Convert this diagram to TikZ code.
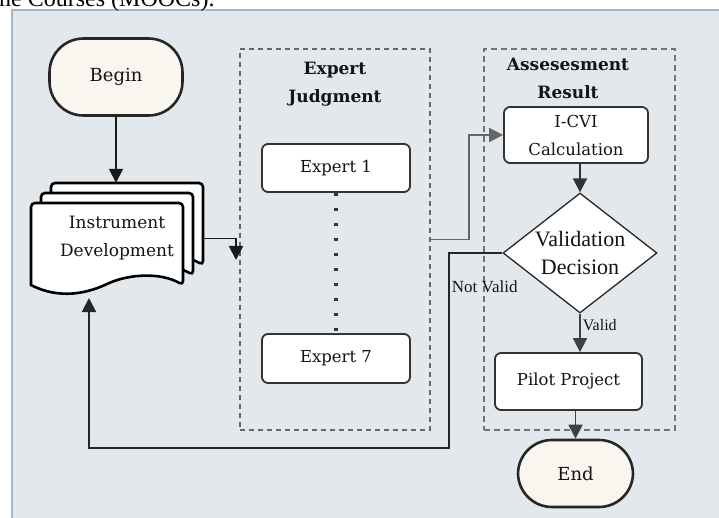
\documentclass[tikz,border=0pt]{standalone}
\usepackage{fontspec}
\setmainfont{DejaVu Serif}
\newfontfamily\thinserif{Liberation Serif}
\usetikzlibrary{shapes.geometric,arrows.meta,positioning}

\definecolor{panelbg}{HTML}{E3E8ED}
\definecolor{panelline}{HTML}{A9B6C3}
\definecolor{cream}{HTML}{F8F6EE}
\definecolor{inkgray}{HTML}{141414}

\begin{document}
\begin{tikzpicture}[x=1pt,y=-1pt,>={Triangle[length=14pt,width=14pt]},
    font=\fontsize{16.5pt}{28pt}\selectfont,text=inkgray,
    terminal/.style={rectangle,rounded corners=34pt,fill=cream,draw=black!85,
                     line width=2.6pt,font=\fontsize{18pt}{28pt}\selectfont},
    stepbox/.style={rectangle,rounded corners=6pt,fill=white,draw=black!80,
                    line width=1.8pt,align=center},
    grouptitle/.style={align=center,font=\fontsize{17pt}{28pt}\selectfont\bfseries},
    link/.style={->,line width=1.8pt,draw=black!90},
    tag/.style={font=\thinserif\fontsize{16pt}{16pt}\selectfont,inner sep=2pt}]

  \useasboundingbox (0,0) rectangle (719,518);
  \fill[panelbg] (12,10) rectangle (725,525);
  \draw[panelline,line width=2pt] (12,525) -- (12,10) -- (725,10);
  \node[anchor=base west,inner sep=0pt,font=\thinserif\fontsize{24pt}{24pt}\selectfont,
        text=black] (caption) at (-1,7) {ne Courses (MOOCs).};

  % groups
  \node[rectangle,draw=black!60,line width=1.2pt,dash pattern=on 5pt off 4pt,
        minimum width=190pt,minimum height=381pt] (judge) at (335,239.5) {};
  \node[grouptitle] (judgetitle) at (335,84) {Expert\\Judgment};
  \node[rectangle,draw=black!55,line width=2pt,dash pattern=on 6pt off 4pt,
        minimum width=191pt,minimum height=381pt] (assess) at (579.5,239.5) {};
  \node[grouptitle] (assesstitle) at (568,78) {Assesesment\\Result};

  % instrument development, three stacked sheets
  \foreach \d in {20,10,0}
    \draw[line width=2.6pt,fill=white,shift={(\d,-\d)}] (31,285)
      [rounded corners=4pt] -- (31,203) -- (183,203) -- (183,285) [sharp corners]
      .. controls (160,272) and (128,274) .. (107,284)
      .. controls (88,293) and (60,300) .. (31,285) -- cycle;
  \node[align=center,minimum width=172pt,minimum height=111pt,
        font=\fontsize{17pt}{28pt}\selectfont] (dev)
       at (117,238.5) {Instrument\\Development};

  \node[terminal,minimum width=133pt,minimum height=77pt] (begin) at (116,77) {Begin};
  \node[stepbox,minimum width=148pt,minimum height=48pt] (exp1) at (336,168) {Expert 1};
  \node[stepbox,minimum width=148pt,minimum height=49pt] (exp7) at (336,358.5) {Expert 7};
  \node[stepbox,minimum width=144pt,minimum height=56pt] (icvi) at (576,135) {I-CVI\\Calculation};
  \node[diamond,fill=white,draw=black!85,line width=1.3pt,align=center,inner sep=0pt,
        shape aspect=1.28,minimum width=154pt,minimum height=120pt,
        font=\thinserif\fontsize{22pt}{28pt}\selectfont] (decide)
       at (580,253) {Validation\\Decision};
  \node[stepbox,minimum width=147pt,minimum height=57pt] (pilot) at (568.5,381.5) {Pilot Project};
  \node[terminal,minimum width=115pt,minimum height=67pt] (finish) at (575.5,473.5) {End};

  \coordinate (judgein) at (236,260);
  \coordinate (loop) at (449,448);
  \coordinate (devin) at (89,298);

  % connectors
  \draw[link] (begin) -- (begin |- dev.north);
  \draw[link] (dev.east) -| (judgein);
  \draw[dotted,line width=3.5pt,dash pattern=on 3.5pt off 11.5pt,draw=black!80]
       (exp1) -- (exp7);
  \draw[link,draw=black!60] (judge.east) -- ++(38,0) |- (icvi.west);
  \draw[link,draw=black!80] (decide.north |- icvi.south) -- (decide.north);
  \draw[link,draw=black!75] (decide.south) -- (decide.south |- pilot.north)
       node[tag,pos=0.3,right] {Valid};
  \draw[link,draw=black!75] (finish.north |- pilot.south) -- (finish.north);
  \draw[link,draw=black!85] (decide.west) -| (loop)
       node[tag,pos=0.587,right,font=\thinserif\fontsize{17pt}{17pt}\selectfont] {Not Valid}
       -| (devin);
\end{tikzpicture}
\end{document}
